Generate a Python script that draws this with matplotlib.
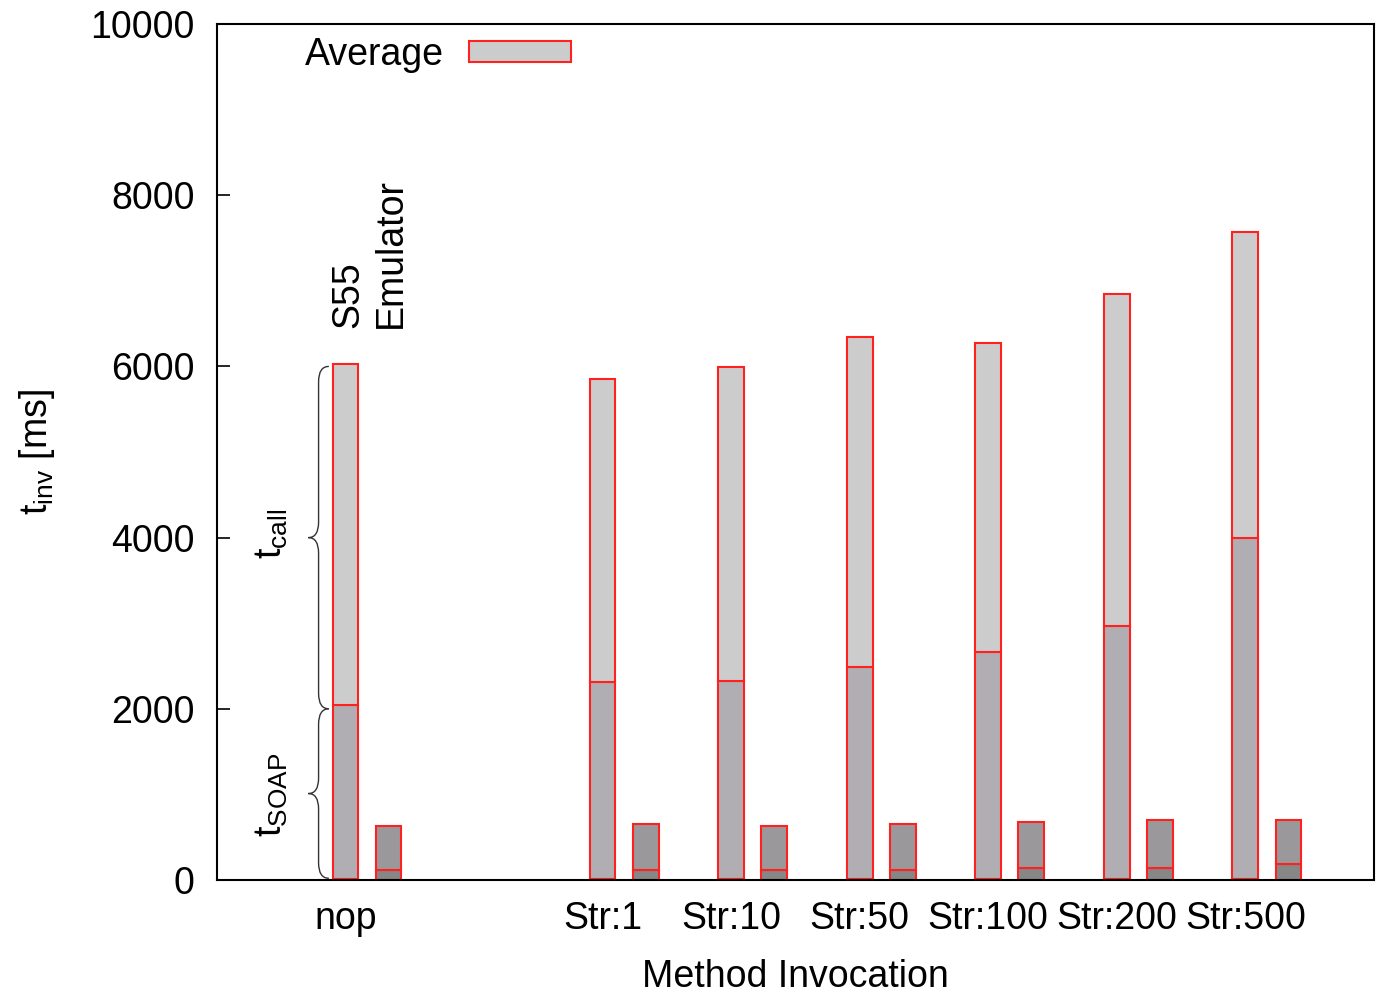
import numpy as np
import matplotlib.pyplot as plt
from matplotlib.path import Path
from matplotlib.patches import PathPatch, Patch

plt.rcParams['font.family'] = ['Liberation Sans', 'DejaVu Sans']
plt.rcParams['mathtext.fontset'] = 'custom'
plt.rcParams['mathtext.rm'] = 'Liberation Sans'
plt.rcParams['mathtext.it'] = 'Liberation Sans'

categories = ['nop', 'Str:1', 'Str:10', 'Str:50', 'Str:100', 'Str:200', 'Str:500']
positions = [0, 2, 3, 4, 5, 6, 7]

# S55 phone: stacked (base, t_SOAP, t_call) totals in ms
s55_base = [15, 15, 15, 15, 15, 15, 15]
s55_soap = [2045, 2310, 2325, 2490, 2665, 2965, 3995]
s55_total = [6030, 5855, 5995, 6345, 6270, 6845, 7570]

# Emulator: stacked (base, rest)
emu_base = [115, 115, 115, 115, 140, 140, 185]
emu_total = [630, 655, 630, 655, 680, 700, 700]

FS = 27

fig = plt.figure(figsize=(13.78, 9.93), dpi=100)
ax = fig.add_axes([0.1575, 0.1138, 0.8395, 0.862])

x = np.array(positions, dtype=float)
w = 0.2
off = 0.335
edge = dict(edgecolor='#ff2020', linewidth=1.5)

b = np.array(s55_base)
s = np.array(s55_soap)
t = np.array(s55_total)
ax.bar(x, b, w, color='#8a8a8a', **edge)
ax.bar(x, s - b, w, bottom=b, color='#b1aeb3', **edge)
ax.bar(x, t - s, w, bottom=s, color='#cccccc', **edge)

eb = np.array(emu_base)
et = np.array(emu_total)
ax.bar(x + off, eb, w, color='#878787', **edge)
ax.bar(x + off, et - eb, w, bottom=eb, color='#9a989b', **edge)

ax.set_xlim(-1, 8)
ax.set_ylim(0, 10000)
ax.set_xticks(positions)
ax.set_xticklabels(categories)
ax.set_yticks(range(0, 10001, 2000))
ax.tick_params(axis='x', length=0, labelsize=FS, pad=15)
ax.tick_params(axis='y', direction='in', length=9, width=1.2, labelsize=FS, pad=16)
for sp in ax.spines.values():
    sp.set_linewidth(1.5)

ax.set_xlabel('Method Invocation', fontsize=FS, labelpad=16)
ax.set_ylabel(r'$\mathrm{t_{inv}}$ [ms]', fontsize=FS, labelpad=24)


def brace(ax, x_s, y0, y1, depth, r):
    ym = (y0 + y1) / 2
    verts = [(x_s + depth, y1), (x_s, y1), (x_s, y1 - r),
             (x_s, ym + r), (x_s, ym), (x_s - depth, ym),
             (x_s, ym), (x_s, ym - r),
             (x_s, y0 + r), (x_s, y0), (x_s + depth, y0)]
    codes = [Path.MOVETO, Path.CURVE3, Path.CURVE3,
             Path.LINETO, Path.CURVE3, Path.CURVE3,
             Path.CURVE3, Path.CURVE3,
             Path.LINETO, Path.CURVE3, Path.CURVE3]
    ax.add_patch(PathPatch(Path(verts, codes), fill=False, lw=1.0,
                           edgecolor='#333333', clip_on=False))


brace(ax, -0.21, 20, 2000, 0.08, 180)
brace(ax, -0.21, 2000, 6000, 0.08, 180)
ax.text(-0.57, 1000, r'$\mathrm{t_{SOAP}}$', rotation=90, fontsize=FS,
        ha='center', va='center')
ax.text(-0.57, 4050, r'$\mathrm{t_{call}}$', rotation=90, fontsize=FS,
        ha='center', va='center')

ax.text(0.02, 6450, 'S55', rotation=90, fontsize=FS, ha='center', va='bottom')
ax.text(0.35, 6450, 'Emulator', rotation=90, fontsize=FS, ha='center', va='bottom')

handle = Patch(facecolor='#cccccc', edgecolor='#ff2020', linewidth=1.5)
ax.legend([handle], ['Average'], loc='upper left', bbox_to_anchor=(0.047, 1.024),
          frameon=False, fontsize=FS, markerfirst=False, handlelength=2.7,
          handleheight=0.48, handletextpad=0.67)

fig.savefig('out.png', dpi=100)
